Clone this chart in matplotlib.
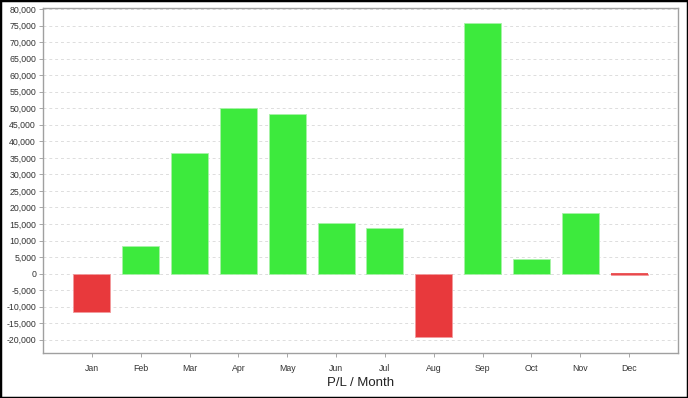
import numpy as np
import matplotlib.pyplot as plt
from matplotlib.ticker import FuncFormatter, MultipleLocator

months = ['Jan', 'Feb', 'Mar', 'Apr', 'May', 'Jun', 'Jul', 'Aug', 'Sep', 'Oct', 'Nov', 'Dec']
pnl = [-11500, 8200, 36500, 50200, 48300, 15400, 13900, -19300, 75800, 4300, 18400, -400]

green = '#3dea3d'
red = '#e8393c'

plt.rcParams['font.family'] = ['Liberation Sans', 'DejaVu Sans']

fig = plt.figure(figsize=(6.88, 3.98), dpi=100)
ax = fig.add_axes([43 / 688, 1 - 353 / 398, 635 / 688, 345 / 398])

x = np.arange(len(months))
colors = [green if v >= 0 else red for v in pnl]
edges = ['#a8f2a8' if v >= 0 else '#f29a9c' for v in pnl]
ax.bar(x, pnl, width=0.76, color=colors, edgecolor=edges, linewidth=0.6, zorder=3)
# tiny bars still show as a thin line
for xi, v in zip(x, pnl):
    if abs(v) < 1500:
        ax.plot([xi - 0.38, xi + 0.38], [v / 2, v / 2], color=red if v < 0 else green,
                linewidth=1.2, zorder=4, solid_capstyle='butt')

ax.set_xlim(-1, 12)
ax.set_ylim(-24000, 80300)
ax.yaxis.set_major_locator(MultipleLocator(5000))
ax.yaxis.set_major_formatter(FuncFormatter(lambda v, p: '{:,.0f}'.format(v)))
ax.set_xticks(x)
ax.set_xticklabels(months)
ax.tick_params(axis='both', labelsize=6.3, length=3, width=0.6, color='#999999', labelcolor='#333333', pad=2)
ax.tick_params(axis='x', pad=5)
ax.grid(axis='y', color='#dddddd', linestyle=(0, (3, 3)), linewidth=0.7, zorder=0)
for s in ax.spines.values():
    s.set_color('#a0a0a0')
    s.set_linewidth(1)

ax.set_xlabel('P/L / Month', fontsize=9.5, color='#222222', labelpad=3)

# outer frame
fig.patches.append(plt.Rectangle((0, 0), 1, 1, transform=fig.transFigure,
                                 fill=False, edgecolor='black', linewidth=2.5))

fig.savefig('out.png', dpi=100)
